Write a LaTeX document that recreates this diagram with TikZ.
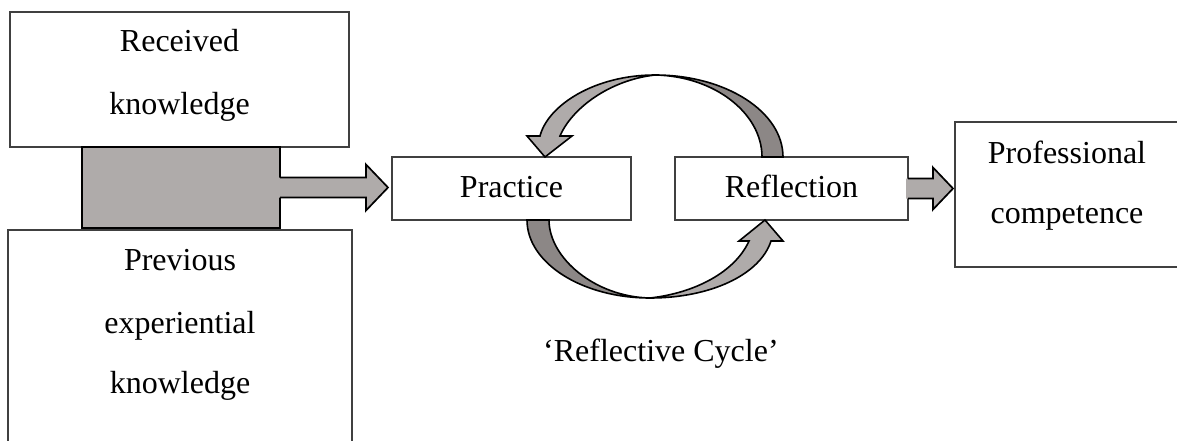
\documentclass[tikz,border=0pt]{standalone}
\usepackage{fontspec}
\setmainfont{Liberation Serif}
\usetikzlibrary{calc}
\definecolor{lightg}{HTML}{AFABAA}
\definecolor{darkg}{HTML}{8C8786}
\definecolor{boxline}{HTML}{404040}
\tikzset{
  box/.style={draw=boxline, line width=1.1pt, fill=white, rectangle, inner sep=0pt, outer sep=0pt},
  graybox/.style={draw=black, line width=1.8pt, fill=lightg, rectangle, inner sep=0pt, outer sep=0pt},
  txt/.style={font=\fontsize{32}{38}\selectfont, inner sep=0pt, anchor=base},
  arrowline/.style={draw=black, line width=1.7pt, line join=miter},
  curvline/.style={draw=black, line width=1.6pt, line join=miter}
}
% fat block arrow from east anchor of #1 to west anchor of #2
% #3 gap before target, #4 head length, #5 head half height, #6 shaft half height
\newcommand\FatArrowDraw[6]{%
  \fill[lightg] let \p1=(#1.east), \p2=(#2.west) in
    (\x1-2pt,\y1+#6pt) -- (\x2-#3pt-#4pt,\y1+#6pt) -- (\x2-#3pt-#4pt,\y1+#5pt)
    -- (\x2-#3pt,\y1) -- (\x2-#3pt-#4pt,\y1-#5pt) -- (\x2-#3pt-#4pt,\y1-#6pt)
    -- (\x1-2pt,\y1-#6pt) -- cycle;
  \draw[arrowline] let \p1=(#1.east), \p2=(#2.west) in
    (\x1,\y1+#6pt) -- (\x2-#3pt-#4pt,\y1+#6pt) -- (\x2-#3pt-#4pt,\y1+#5pt)
    -- (\x2-#3pt,\y1) -- (\x2-#3pt-#4pt,\y1-#5pt) -- (\x2-#3pt-#4pt,\y1-#6pt)
    -- (\x1,\y1-#6pt);
}
\begin{document}
\begin{tikzpicture}[x=1pt,y=-1pt]
\useasboundingbox (0,0) rectangle (1177,441);
\fill[white] (0,0) rectangle (1177,441);

% left boxes
\node[box, minimum width=339pt, minimum height=135pt] (rec) at (179.5,79.5) {};
\begin{scope}
  \clip (0,0) rectangle (1177,441);
  \node[box, minimum width=344pt, minimum height=230pt] (prev) at (180,345) {};
  \node[box, minimum width=245pt, minimum height=145pt] (prof) at (1077.5,194.5) {};
\end{scope}
\node[graybox, minimum width=198pt, minimum height=81pt] (mix) at (181,187.5) {};

% middle boxes
\node[box, minimum width=239pt, minimum height=63pt] (prac) at (511.5,188.5) {};
\node[box, minimum width=233pt, minimum height=63pt] (refl) at (791.5,188.5) {};

% texts
\node[txt] (t1) at (179.5,52) {Received};
\node[txt] (t2) at (179.5,115) {knowledge};
\node[txt] (t3) at (180,270) {Previous};
\node[txt] (t4) at (180,333) {experiential};
\node[txt] (t5) at (180,393) {knowledge};
\node[txt] (t6) at (511.5,197) {Practice};
\node[txt] (t7) at (791.5,197) {Reflection};
\node[txt] (t8) at (1067,163) {Professional};
\node[txt] (t9) at (1067,223) {competence};
\node[txt, anchor=base west] (t10) at (543,361) {‘Reflective Cycle’};

% block arrows
\FatArrowDraw{mix}{prac}{4}{22}{23}{10}
\FatArrowDraw{refl}{prof}{2}{20}{21}{10}

% top curved arrow (Reflection -> Practice)
\filldraw[fill=darkg, curvline] (783,157) .. controls (783,111.7) and (725.7,75) .. (655,75)
   .. controls (714,76) and (762,113) .. (762,157) -- cycle;
\filldraw[fill=lightg, curvline] (655,75) .. controls (595,75) and (548,105) .. (540,136)
   -- (527,136) -- (545,157) -- (572,136) -- (560,136)
   .. controls (572,108) and (610,80) .. (655,75) -- cycle;

% bottom curved arrow (Practice -> Reflection)
\filldraw[fill=darkg, curvline] (527,220) .. controls (527,263) and (582,298) .. (650,298)
   .. controls (595,297) and (549,258) .. (549,220) -- cycle;
\filldraw[fill=lightg, curvline] (650,298) .. controls (710,298) and (760,275) .. (771,241)
   -- (783,241) -- (765,220) -- (739,241) -- (749,241)
   .. controls (735,272) and (695,293) .. (650,298) -- cycle;
\end{tikzpicture}
\end{document}
